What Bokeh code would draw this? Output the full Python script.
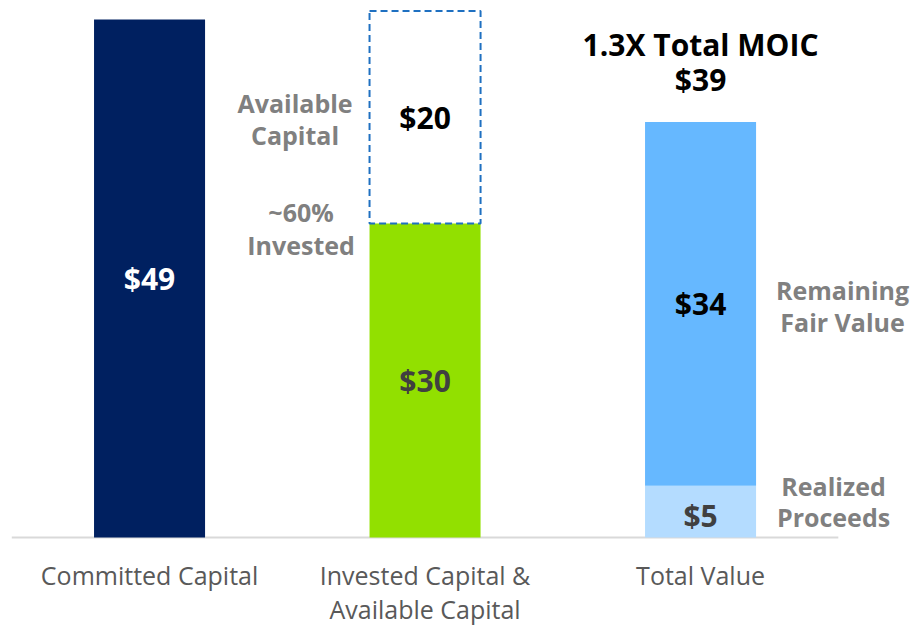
from bokeh.plotting import figure
from bokeh.models import Range1d
from bokeh.core.properties import value
from bokeh.embed import file_html
from bokeh.resources import INLINE

# ---- data ----
categories = ["Committed Capital", "Invested Capital &\nAvailable Capital", "Total Value"]
committed = [49.0]
invested = [29.7]
available = [20.1]
realized = [4.9]
remaining = [34.4]
committed_lbl = ["$49"]
invested_lbl = ["$30"]
available_lbl = ["$20"]
realized_lbl = ["$5"]
remaining_lbl = ["$34"]
total_title = ["1.3X Total MOIC", "$39"]

FONT = value("Open Sans")
W, H = 912, 627
BW = 0.403

p = figure(width=W, height=H, output_backend="svg", toolbar_location=None,
           x_range=Range1d(-0.541, 2.7693), y_range=Range1d(-8.515, 50.80),
           min_border=0, outline_line_color=None)
p.axis.visible = False
p.grid.visible = False
p.background_fill_color = "white"
p.border_fill_color = "white"

xs = list(range(len(categories)))

# axis baseline
p.segment(x0=[xs[0] - 0.5], y0=[0], x1=[xs[-1] + 0.5], y1=[0], line_color="#D9D9D9", line_width=2)

# bars
p.vbar(x=[xs[0]], bottom=0, top=committed, width=BW, fill_color="#002060", line_color=None)
p.vbar(x=[xs[1]], bottom=0, top=invested, width=BW, fill_color="#92E000", line_color=None)
p.vbar(x=[xs[1]], bottom=invested, top=[invested[0] + available[0]], width=BW,
       fill_alpha=0, line_color="#1F70C1", line_width=2, line_dash="7 4")
p.vbar(x=[xs[2]], bottom=0, top=realized, width=BW, fill_color="#B4DCFF", line_color=None)
p.vbar(x=[xs[2]], bottom=realized, top=[realized[0] + remaining[0]], width=BW,
       fill_color="#66B8FF", line_color=None)

def lbl(x, y, t, color, size, style="bold", align="center", baseline="middle", xo=0, yo=0, lh=1.0):
    p.text(x=x, y=y, text=t, text_color=color, text_font=FONT, text_font_size=size,
           text_font_style=style, text_align=align, text_baseline=baseline,
           x_offset=xo, y_offset=yo, text_line_height=lh)

# value labels
lbl([xs[0]], [committed[0] / 2], committed_lbl, "white", "30px")
lbl([xs[1]], [invested[0] / 2], invested_lbl, "#404040", "30px")
lbl([xs[1]], [invested[0] + available[0] / 2], available_lbl, "black", "30px")
lbl([xs[2]], [realized[0] / 2], realized_lbl, "#404040", "30px", yo=4)
lbl([xs[2]], [realized[0] + remaining[0] / 2], remaining_lbl, "black", "30px")

# side annotations
lbl([xs[1]], [invested[0] + available[0] / 2], ["Available\nCapital"], "#808080", "25px", xo=-130, yo=2, lh=0.94)
lbl([xs[1]], [invested[0]], ["~60%\nInvested"], "#808080", "25px", xo=-124, yo=5, lh=0.97)
lbl([xs[2]], [realized[0] + remaining[0] / 2], ["Remaining\nFair Value"], "#808080", "25px", xo=142, yo=2, lh=0.94)
lbl([xs[2]], [realized[0] / 2], ["Realized\nProceeds"], "#808080", "25px", xo=133, yo=-10, lh=0.91)

# total title
tot = realized[0] + remaining[0]
lbl([xs[2], xs[2]], [tot, tot], total_title, "black", "30px", yo=[-78, -43])

# category labels
lbl(xs, [0] * 3, categories, "#595959", "25px", style="normal", baseline="top", yo=21, lh=1.0)

open("out.html", "w").write(file_html(p, INLINE))
